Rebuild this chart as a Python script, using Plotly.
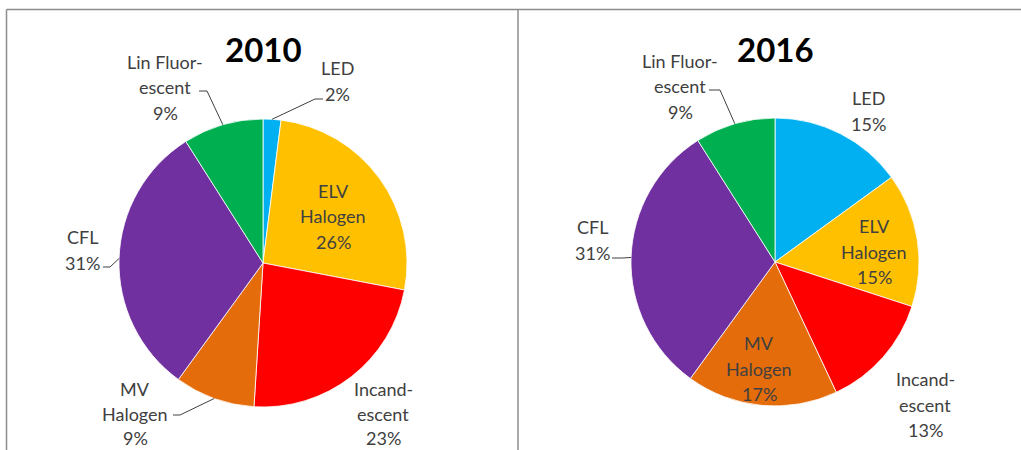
import math
import plotly.graph_objects as go

W, H = 1021, 450

# Lighting technology shares (percent), listed clockwise from 12 o'clock
categories = ["LED", "ELV Halogen", "Incandescent", "MV Halogen", "CFL", "Lin Fluorescent"]
label_lines = [["LED"], ["ELV", "Halogen"], ["Incand-", "escent"], ["MV", "Halogen"],
               ["CFL"], ["Lin Fluor-", "escent"]]
share_2010 = [2, 26, 23, 9, 31, 9]
share_2016 = [15, 15, 13, 17, 31, 9]
years = ["2010", "2016"]
colors = ["#00B0F0", "#FFC000", "#FF0000", "#E46C0A", "#7030A0", "#00B050"]

FONT = "Lato"
TXT = "#404040"
LINE_STEP = 25.5

# Pie placement in pixels: centre x, centre y, radius
pies = [
    dict(cx=263, cy=263, r=144, values=share_2010, title_xy=(263, 49),
         # label centre (x, y of first line) per slice
         labels=[(337, 68), (333, 191), (383, 389), (135, 389), (82, 237), (165, 62)],
         # leader lines: slice index -> label-side anchor points
         leaders={5: [(199, 91), (207, 91)], 0: [(323, 99), (315, 99)],
                  3: [(173, 415), (180, 415)], 4: [(103, 267), (110, 267)]}),
    dict(cx=775, cy=262, r=144, values=share_2016, title_xy=(775, 49),
         labels=[(868, 98), (874, 226), (925, 379), (759, 343), (592, 227), (680, 61)],
         leaders={5: [(709, 90), (720, 90)], 4: [(612, 258), (622, 258)]}),
]


def px(x):
    return x / W


def py(y):
    return 1 - y / H


fig = go.Figure()
annotations = []
shapes = []

for year, p in zip(years, pies):
    cx, cy, r = p["cx"], p["cy"], p["r"]
    fig.add_trace(go.Pie(
        labels=categories, values=p["values"], sort=False, direction="clockwise",
        rotation=0, marker=dict(colors=colors, line=dict(color="white", width=0.8)),
        textinfo="none", hoverinfo="label+percent", showlegend=False,
        domain=dict(x=[px(cx - r), px(cx + r)], y=[py(cy + r), py(cy - r)]),
    ))
    annotations.append(dict(
        x=px(p["title_xy"][0]), y=py(p["title_xy"][1]), xref="paper", yref="paper",
        text=f"<b>{year}</b>", showarrow=False, xanchor="center", yanchor="middle",
        font=dict(family=FONT, size=33, color="black")))

    total = sum(p["values"])
    cum = 0
    mids = []
    for v in p["values"]:
        mids.append((cum + v / 2) / total * 2 * math.pi)
        cum += v

    for i, (lines, v) in enumerate(zip(label_lines, p["values"])):
        lx, ly = p["labels"][i]
        all_lines = lines + [f"{round(v / total * 100)}%"]
        step = LINE_STEP if ly + len(lines) * LINE_STEP < 435 else 24.5
        for k, t in enumerate(all_lines):
            annotations.append(dict(
                x=px(lx), y=py(ly + k * step), xref="paper", yref="paper",
                text=t, showarrow=False, xanchor="center", yanchor="middle",
                font=dict(family=FONT, size=18, color=TXT)))

    for i, pts in p["leaders"].items():
        a = mids[i]
        ex, ey = cx + r * math.sin(a), cy - r * math.cos(a)
        path_pts = pts + [(ex, ey)]
        d = "M " + " L ".join(f"{px(x)},{py(y)}" for x, y in path_pts)
        shapes.append(dict(type="path", path=d, xref="paper", yref="paper",
                           line=dict(color=TXT, width=1)))

# Chart frame: top edge, left edge and the divider between the two panels
frame = "#8C8C8C"
for x0, y0, x1, y1 in [(6.5, 9.5, W, 9.5), (6.5, 9.5, 6.5, H), (518, 9.5, 518, H)]:
    shapes.append(dict(type="line", x0=px(x0), y0=py(y0), x1=px(x1), y1=py(y1),
                       xref="paper", yref="paper", line=dict(color=frame, width=1.5)))

fig.update_layout(
    width=W, height=H, margin=dict(l=0, r=0, t=0, b=0),
    paper_bgcolor="white", plot_bgcolor="white",
    annotations=annotations, shapes=shapes,
)

fig.write_html("out.html")
